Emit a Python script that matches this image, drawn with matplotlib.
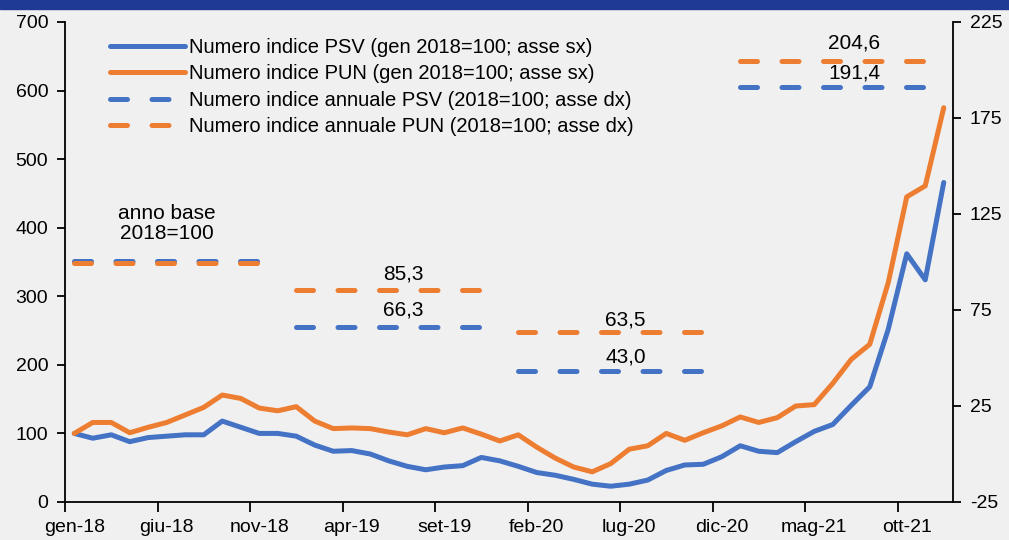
import matplotlib
matplotlib.use("Agg")
import matplotlib.pyplot as plt
import matplotlib.transforms as mtransforms
from matplotlib.patches import Rectangle
from matplotlib.ticker import FuncFormatter
import numpy as np

months = ["gen", "feb", "mar", "apr", "mag", "giu", "lug", "ago", "set", "ott", "nov", "dic"]
years = ["18", "19", "20", "21"]
labels = [f"{m}-{y}" for y in years for m in months]

psv = [100, 93, 98, 88, 94, 96, 98, 98, 118, 109, 100, 100,
       96, 83, 74, 75, 70, 60, 52, 47, 51, 53, 65, 60,
       52, 43, 39, 33, 26, 23, 26, 32, 46, 54, 55, 66,
       82, 74, 72, 88, 103, 113, 141, 168, 252, 362, 324, 466]
pun = [100, 116, 116, 101, 109, 116, 127, 138, 156, 151, 137, 133,
       139, 118, 107, 108, 107, 102, 98, 107, 101, 108, 99, 89,
       98, 80, 64, 51, 44, 56, 77, 82, 100, 90, 101, 111,
       124, 116, 123, 140, 142, 173, 208, 230, 320, 445, 461, 575]

annual_years = [0, 1, 2, 3]
annual_psv = [100.0, 66.3, 43.0, 191.4]
annual_pun = [100.0, 85.3, 63.5, 204.6]
annual_text_psv = ["", "66,3", "43,0", "191,4"]
annual_text_pun = ["", "85,3", "63,5", "204,6"]

BLUE = "#4472C4"
ORANGE = "#ED7D31"
BG = "#F0F0F0"

plt.rcParams['font.family'] = ['Liberation Sans', 'DejaVu Sans']

fig = plt.figure(figsize=(10.09, 5.40), dpi=100, facecolor=BG)
ax = fig.add_axes([65/1009, 38/540, (953-65)/1009, 480/540])
ax.set_facecolor(BG)
ax2 = ax.twinx()

x = np.arange(len(labels))
lw = 3.6
l1, = ax.plot(x, psv, color=BLUE, lw=lw, solid_capstyle='round', solid_joinstyle='round',
              label="Numero indice PSV (gen 2018=100; asse sx)", zorder=3)
l2, = ax.plot(x, pun, color=ORANGE, lw=lw, solid_capstyle='round', solid_joinstyle='round',
              label="Numero indice PUN (gen 2018=100; asse sx)", zorder=3)

dash = (0, (3.4, 4.9))
handles_d = []
for k, yi in enumerate(annual_years):
    xs = x[yi*12:(yi+1)*12]
    tr = ax2.transData
    if yi == 0:
        tr = mtransforms.offset_copy(ax2.transData, fig=fig, x=0, y=-1.2, units='dots')
        tr_b = mtransforms.offset_copy(ax2.transData, fig=fig, x=0, y=1.2, units='dots')
    else:
        tr_b = ax2.transData
    hb, = ax2.plot(xs, [annual_psv[k]]*12, color=BLUE, lw=lw, linestyle=dash,
                   dash_capstyle='round', transform=tr_b)
    ho, = ax2.plot(xs, [annual_pun[k]]*12, color=ORANGE, lw=lw, linestyle=dash,
                   dash_capstyle='round', transform=tr)
    if k == 0:
        hb.set_label("Numero indice annuale PSV (2018=100; asse dx)")
        ho.set_label("Numero indice annuale PUN (2018=100; asse dx)")
        handles_d = [hb, ho]

ax.set_xlim(-0.5, len(labels) - 0.5)
ax.set_ylim(0, 700)
ax.set_yticks(range(0, 701, 100))
ax2.set_ylim(-25, 225)
ax2.set_yticks(range(-25, 226, 50))
ax2.yaxis.set_major_formatter(FuncFormatter(lambda v, p: f"{int(v)}"))

tick_idx = list(range(0, len(labels), 5))
ax.set_xticks([i - 0.5 for i in tick_idx])
ax.set_xticklabels([])
ax.set_xticks(tick_idx, minor=True)
ax.set_xticklabels([labels[i] for i in tick_idx], minor=True)
ax.tick_params(axis='x', which='major', length=7, width=1.3, direction='out')
ax.tick_params(axis='x', which='minor', length=0, labelsize=14, pad=12)
ax.tick_params(axis='y', length=6, width=1.3, labelsize=14, pad=6)
ax2.tick_params(axis='y', length=6, width=1.3, labelsize=14, pad=6)

for a in (ax, ax2):
    a.spines['top'].set_visible(False)
    for s in ('left', 'right', 'bottom'):
        a.spines[s].set_linewidth(1.3)
ax.spines['right'].set_visible(False)
ax2.spines['left'].set_visible(False)
ax2.spines['bottom'].set_visible(False)

# annotations
fs_ann = 15
ax2.text(5.0, 120, "anno base\n2018=100", ha='center', va='center', fontsize=fs_ann,
         linespacing=1.1)
ann_x = [None, 17.8, 29.8, 42.15]
ann_pun_y = [None, 93.9, 69.8, 214.2]
ann_psv_y = [None, 74.8, 50.5, 198.4]
for k in range(1, 4):
    ax2.text(ann_x[k], ann_pun_y[k], annual_text_pun[k], ha='center', va='center', fontsize=fs_ann)
    ax2.text(ann_x[k], ann_psv_y[k], annual_text_psv[k], ha='center', va='center', fontsize=fs_ann)

leg = ax2.legend(handles=[l1, l2] + handles_d, loc='upper left',
                 bbox_to_anchor=(37/888, 1 - 8/480), frameon=False,
                 prop={'size': 14.5},
                 handlelength=3.73, handletextpad=0.2, labelspacing=0.36, borderaxespad=0)

# top band
fig.patches.append(Rectangle((0, 1 - 9/540), 1, 9/540, transform=fig.transFigure,
                             color="#1F3A93", zorder=0))

fig.savefig("out.png", dpi=100, facecolor=BG)
